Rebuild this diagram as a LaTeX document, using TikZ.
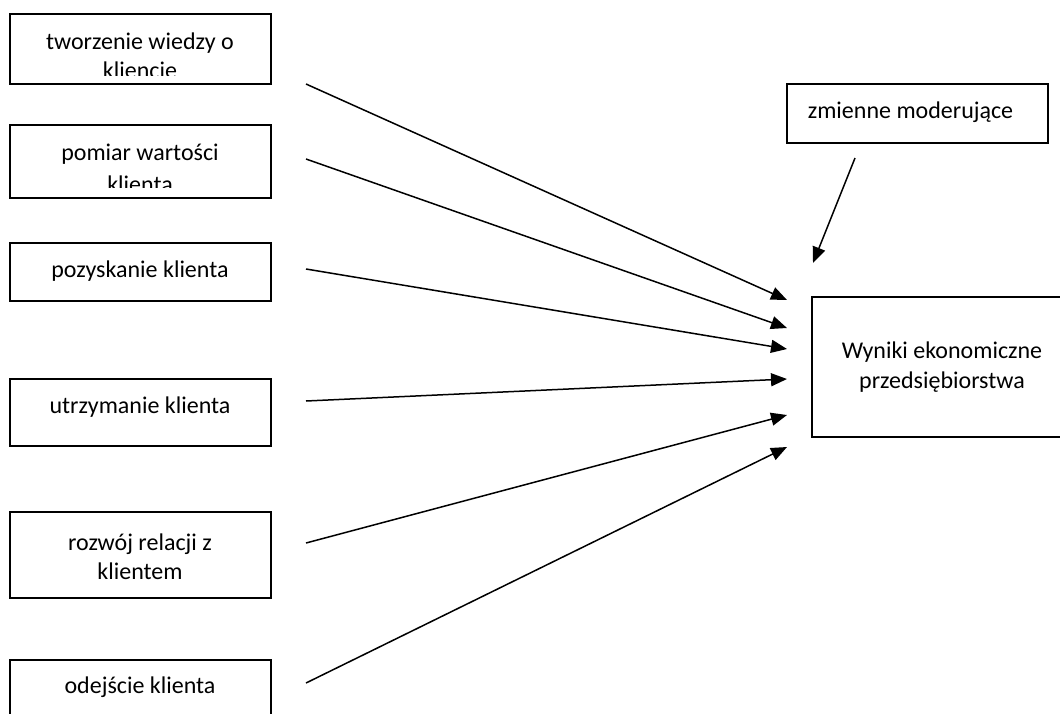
\documentclass[tikz,border=0pt]{standalone}
\usepackage{fontspec}
\setmainfont{Carlito}
\usetikzlibrary{arrows.meta,positioning,calc}
\tikzset{
box/.style={draw, line width=0.8pt, minimum width=130.5pt, inner sep=0pt}, % the frames
opis/.style={align=center, font=\fontsize{12}{14.6}\selectfont, inner sep=0pt}, % texts in frames
strz/.style={line width=0.75pt, -{Triangle[length=8pt,width=6.5pt]}}, % arrows
}

\begin{document}
\begin{tikzpicture}[x=0.5pt,y=0.5pt,yscale=-1,xscale=1]
		\useasboundingbox (0,0) rectangle (1060,713);
		\clip (0,0) rectangle (1060,713);
		
		% Frames
		\node [box, minimum height=35pt] (wiedza) at (140.5,49) {};
		\node [box, minimum height=36.5pt] (pomiar) at (140.5,161.5) {};
		\node [box, minimum height=29pt] (pozysk) at (140.5,272) {};
		\node [box, minimum height=33.5pt] (utrzym) at (140.5,412.5) {};
		\node [box, minimum height=43pt] (rozwoj) at (140.5,555) {};
		\node [box, minimum height=35pt] (odejscie) at (140.5,695) {};
		\node [box, minimum height=29.5pt] (moder) at (917.5,113.5) {};
		\node [box, minimum height=70pt] (wyniki) at (942.5,367) {};
		
		% Text Node, cut off at the bottom
		\begin{scope}
		\clip ($(wiedza.south west)+(0,-9)$) rectangle (wiedza.north east);
		\node [opis] (wiedza-t) at (140,56) {tworzenie wiedzy o\\kliencie};
		\end{scope}
		% Text Node, cut off at the bottom
		\begin{scope}
		\clip ($(pomiar.south west)+(0,-11)$) rectangle (pomiar.north east);
		\node [opis] (pomiar-t) at (140,168.5) {pomiar wartości\\[1.5pt]klienta};
		\end{scope}
		% Text Node
		\node [opis] (pozysk-t) at (140,271) {pozyskanie klienta};
		\node [opis] (utrzym-t) at (140,407) {utrzymanie klienta};
		\node [opis] (rozwoj-t) at (140,557) {rozwój relacji z\\klientem};
		\node [opis] (odejscie-t) at (140,687) {odejście klienta};
		\node [opis] (moder-t) at (910.5,112) {zmienne moderujące};
		\node [opis] (wyniki-t) at (942,367) {Wyniki ekonomiczne\\przedsiębiorstwa};
		
		% Arrow ends
		\coordinate (s1) at (306,84);
		\coordinate (s2) at (306,159);
		\coordinate (s3) at (306,269);
		\coordinate (s4) at (306,401);
		\coordinate (s5) at (306,543);
		\coordinate (s6) at (306,683);
		\coordinate (k1) at (787,300);
		\coordinate (k2) at (787,328);
		\coordinate (k3) at (787,349);
		\coordinate (k4) at (787,379);
		\coordinate (k5) at (787,415);
		\coordinate (k6) at (787,447);
		\coordinate (m1) at (855,158);
		\coordinate (m2) at (813,263);
		
		% Arrows
		\draw [strz] (s1) -- (k1);
		\draw [strz] (s2) -- (k2);
		\draw [strz] (s3) -- (k3);
		\draw [strz] (s4) -- (k4);
		\draw [strz] (s5) -- (k5);
		\draw [strz] (s6) -- (k6);
		\draw [strz] (m1) -- (m2);
		
		\end{tikzpicture}
\end{document}
